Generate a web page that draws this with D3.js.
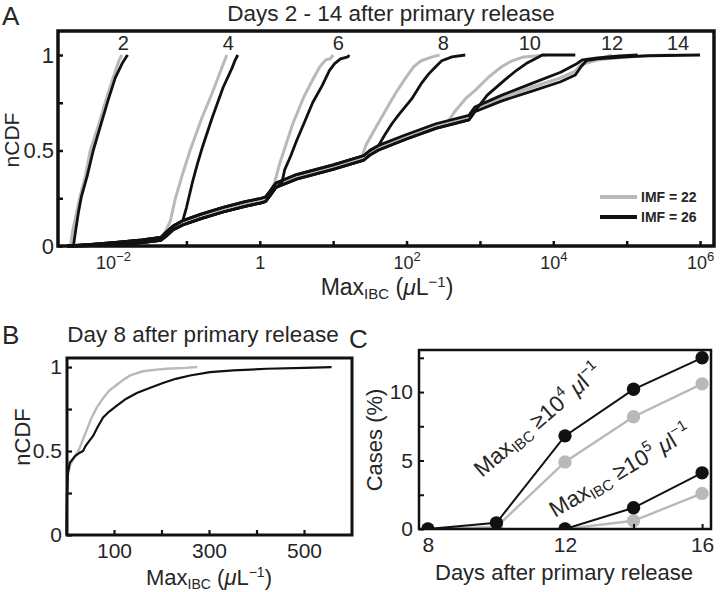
<!DOCTYPE html>
<html><head><meta charset="utf-8">
<script src="https://cdn.jsdelivr.net/npm/d3@7/dist/d3.min.js"></script>
<style>
body{margin:0;background:#fff}
text{font-family:"Liberation Sans",Arial,sans-serif;fill:#262626}
</style></head>
<body><svg id="chart" width="720" height="592"></svg>
<script>
// ---------------- DATA ----------------
// Panel A: points are [log10(Max_IBC), nCDF]
const aTickDecades = [-2,-1,0,1,2,3,4,5,6];
const aLabelDecades = [-2,0,2,4,6];
const aYTicks = [0,0.25,0.5,0.75,1];
const aYLabels = {0:"0",0.5:"0.5",1:"1"};
const dayLabels = ["2","4","6","8","10","12","14"];
const dayLabelPos = [-1.86,-0.43,1.07,2.5,3.68,4.8,5.7];

const tailGray = [[-2.62,0],[-2.3,0.005],[-2.0,0.012],[-1.6,0.025],[-1.35,0.038],[-1.28,0.06],[-1.18,0.095],[-1.05,0.122],[-0.8,0.155],[-0.5,0.19],[-0.2,0.22],[0.02,0.238],[0.08,0.245],[0.14,0.275],[0.22,0.318],[0.5,0.362],[1.0,0.413],[1.42,0.462],[1.5,0.488],[1.62,0.515],[2.0,0.572],[2.4,0.628],[2.85,0.672],[2.93,0.715],[3.3,0.775],[3.7,0.83],[4.1,0.88],[4.3,0.915],[4.38,0.95],[4.6,0.975],[5.0,0.99],[5.3,0.997]];
const tailBlackUpper = [[-2.62,0],[-2.3,0.008],[-2.0,0.018],[-1.6,0.032],[-1.35,0.045],[-1.28,0.07],[-1.18,0.105],[-1.05,0.133],[-0.8,0.167],[-0.5,0.202],[-0.2,0.232],[0.02,0.25],[0.08,0.257],[0.14,0.287],[0.22,0.33],[0.5,0.374],[1.0,0.425],[1.42,0.474],[1.5,0.5],[1.62,0.527],[2.0,0.584],[2.4,0.64],[2.85,0.684],[2.93,0.727],[3.3,0.79],[3.7,0.85],[4.1,0.91],[4.3,0.95],[4.4,0.975],[4.6,0.985],[5.0,0.993],[5.3,0.998]];
const tailBlackLower = [[-2.62,0],[-2.3,0.002],[-2.0,0.006],[-1.6,0.018],[-1.35,0.03],[-1.28,0.05],[-1.18,0.085],[-1.05,0.11],[-0.8,0.143],[-0.5,0.178],[-0.2,0.208],[0.02,0.226],[0.08,0.233],[0.14,0.263],[0.22,0.306],[0.5,0.35],[1.0,0.401],[1.42,0.45],[1.5,0.476],[1.62,0.503],[2.0,0.56],[2.4,0.616],[2.85,0.66],[2.93,0.703],[3.3,0.76],[3.7,0.81],[4.1,0.86],[4.3,0.895],[4.38,0.94],[4.45,0.97],[4.6,0.98],[5.0,0.99],[5.3,0.996]];

// rising parts of each day's curve (leave the shared tail at the first point)
const riseGray = {
  2: [[-2.58,0],[-2.55,0.08],[-2.5,0.17],[-2.45,0.26],[-2.38,0.36],[-2.31,0.5],[-2.2,0.63],[-2.1,0.76],[-2.0,0.88],[-1.92,0.97],[-1.88,1.0]],
  4: [[-1.32,0.045],[-1.28,0.08],[-1.22,0.13],[-1.15,0.25],[-1.05,0.38],[-0.95,0.5],[-0.8,0.66],[-0.65,0.8],[-0.53,0.92],[-0.48,0.97],[-0.45,1.0]],
  6: [[0.12,0.265],[0.2,0.33],[0.27,0.43],[0.33,0.5],[0.45,0.64],[0.6,0.78],[0.72,0.87],[0.82,0.94],[0.9,0.975],[0.96,0.98],[1.0,1.0]],
  8: [[1.38,0.458],[1.45,0.53],[1.55,0.6],[1.7,0.7],[1.85,0.8],[1.97,0.87],[2.1,0.94],[2.2,0.97],[2.35,0.99],[2.45,1.0]],
  10:[[2.55,0.645],[2.65,0.7],[2.8,0.77],[2.95,0.82],[3.12,0.885],[3.3,0.94],[3.44,0.97],[3.6,0.99],[3.9,1.0]],
  12:[[4.6,0.975],[4.8,1.0]],
  14:[[5.3,0.997],[5.6,1.0]]
};
const riseBlack = {
  2: [[-2.54,0],[-2.51,0.08],[-2.47,0.18],[-2.43,0.26],[-2.35,0.37],[-2.27,0.5],[-2.17,0.63],[-2.07,0.76],[-1.97,0.88],[-1.87,0.96],[-1.82,0.99],[-1.80,1.0]],
  4: [[-1.05,0.133],[-1.0,0.2],[-0.92,0.33],[-0.85,0.43],[-0.78,0.52],[-0.65,0.67],[-0.5,0.83],[-0.38,0.93],[-0.34,0.97],[-0.30,1.0]],
  6: [[0.3,0.33],[0.34,0.4],[0.42,0.47],[0.5,0.55],[0.6,0.64],[0.72,0.75],[0.85,0.84],[0.95,0.92],[1.02,0.955],[1.1,0.98],[1.2,0.99],[1.22,1.0]],
  8: [[1.62,0.527],[1.7,0.58],[1.8,0.64],[1.9,0.69],[2.07,0.77],[2.2,0.85],[2.3,0.9],[2.4,0.94],[2.48,0.97],[2.62,0.99],[2.8,1.0]],
  10:[[2.96,0.72],[3.1,0.79],[3.34,0.87],[3.5,0.92],[3.65,0.96],[3.8,0.99],[3.85,1.0],[4.3,1.0]],
  12:[[4.9,0.995],[5.15,1.0]],
  14:[[5.3,0.996],[6.0,1.0]]
};
const blackTailOf = {4:"upper",6:"lower",8:"upper",10:"lower",12:"upper",14:"lower"};
const days = [2,4,6,8,10,12,14];

// Panel B: day 8, linear axis, [Max_IBC, nCDF]
const bXTicks = [100,200,300,400,500];
const bXLabels = [100,300,500];
const bYTicks = [0,0.25,0.5,0.75,1];
const bGray = [[0,0],[0.3,0.1],[1,0.24],[3,0.36],[8,0.42],[18,0.47],[25,0.5],[32,0.55],[39,0.6],[46,0.65],[53,0.7],[64,0.76],[77,0.815],[90,0.86],[106,0.895],[120,0.925],[134,0.95],[161,0.975],[190,0.985],[211,0.99],[250,0.995],[275,1.0]];
const bBlack = [[0,0],[0.3,0.1],[1,0.24],[3,0.37],[7,0.43],[18,0.47],[28,0.49],[35,0.5],[40,0.53],[48,0.56],[56,0.59],[65,0.64],[77,0.70],[90,0.735],[106,0.77],[125,0.81],[148,0.845],[175,0.875],[203,0.905],[230,0.93],[260,0.95],[302,0.97],[351,0.98],[421,0.99],[500,0.995],[558,1.0]];

// Panel C: cases (%)
const cXTicks = [8,10,12,14,16];
const cXLabels = [8,12,16];
const cYTicks = [0,2.5,5,7.5,10,12.5];
const cYLabels = [0,5,10];
const cDays4 = [8,10,12,14,16];
const c4Black = [0,0.45,6.8,10.2,12.5];
const c4Gray  = [0,0.15,4.9,8.2,10.6];
const cDays5 = [12,14,16];
const c5Black = [0,1.55,4.1];
const c5Gray  = [0,0.6,2.6];

// ---------------- DRAW ----------------
const GRAY = "#b9b9b9", BLACK = "#111", TXT = "#262626";
const FONT = "Liberation Sans, Arial, sans-serif";
const svg = d3.select("#chart");

function rich(t, parts){
  let cur = 0;
  parts.forEach(p=>{
    const ts = t.append("tspan").text(p.t);
    const s = p.s || 0;
    ts.attr("dy", s - cur); cur = s;
    if (p.fs) ts.attr("font-size", p.fs);
    if (p.it) ts.attr("font-style","italic");
  });
  return t;
}
function styleAxis(a, w, fs){
  a.select(".domain").remove();
  a.selectAll(".tick line").attr("stroke",BLACK).attr("stroke-width",w);
  a.selectAll(".tick text").attr("font-size",fs).attr("fill",TXT).attr("font-family",FONT);
}

// ===== Panel A =====
const xA = d3.scaleLog().domain([Math.pow(10,-2.75), Math.pow(10,6.19)]).range([58,714]);
const yA = d3.scaleLinear().domain([0,1.1257]).range([246,31]);
const lineA = d3.line().x(d=>xA(Math.pow(10,d[0]))).y(d=>yA(d[1]));
const gA = svg.append("g");

function curve(tail, rise){
  if (!tail) return rise;
  return tail.filter(p=>p[0] < rise[0][0]).concat(rise);
}
days.forEach(d=>{
  gA.append("path").datum(curve(d===2?null:tailGray, riseGray[d]))
    .attr("d", lineA).attr("fill","none").attr("stroke",GRAY).attr("stroke-width",3).attr("stroke-linejoin","round");
});
days.forEach(d=>{
  const tail = d===2 ? null : (blackTailOf[d]==="upper" ? tailBlackUpper : tailBlackLower);
  gA.append("path").datum(curve(tail, riseBlack[d]))
    .attr("d", lineA).attr("fill","none").attr("stroke",BLACK).attr("stroke-width",2.8).attr("stroke-linejoin","round");
});

// axes A
const axA_x = gA.append("g").attr("transform","translate(0,246)")
  .call(d3.axisBottom(xA).tickValues(aTickDecades.map(e=>Math.pow(10,e))).tickSizeInner(-5).tickSizeOuter(0).tickPadding(10).tickFormat(""));
styleAxis(axA_x, 2.5, 18);
axA_x.selectAll(".tick").each(function(v){
  const e = Math.round(Math.log10(v));
  const t = d3.select(this).select("text").attr("dy",null).attr("y",23);
  if (!aLabelDecades.includes(e)) return;
  if (e===0) t.text("1");
  else rich(t, [{t:"10"},{t:(e<0?"\u2212":"")+Math.abs(e), s:-8, fs:13}]);
});
const axA_y = gA.append("g").attr("transform","translate(58,0)")
  .call(d3.axisLeft(yA).tickValues(aYTicks).tickSizeInner(-5).tickSizeOuter(0).tickPadding(4)
    .tickFormat(v=>aYLabels[v]||""));
styleAxis(axA_y, 2.5, 22);

gA.append("rect").attr("x",58).attr("y",31).attr("width",714-58).attr("height",246-31)
  .attr("fill","none").attr("stroke",BLACK).attr("stroke-width",3.5);

// day labels
gA.selectAll("text.day").data(dayLabels).enter().append("text").attr("class","day")
  .attr("x",(d,i)=>xA(Math.pow(10,dayLabelPos[i]))).attr("y",yA(1.026))
  .attr("text-anchor","middle").attr("font-size",20).text(d=>d);

// legend
[["IMF = 22",GRAY,197],["IMF = 26",BLACK,217]].forEach(([lab,col,y])=>{
  gA.append("line").attr("x1",600).attr("x2",637).attr("y1",y).attr("y2",y).attr("stroke",col).attr("stroke-width",4);
  gA.append("text").attr("x",641).attr("y",y+5).attr("font-size",14).attr("font-weight","bold").text(lab);
});

svg.append("text").attr("x",2).attr("y",25).attr("font-size",26).text("A");
svg.append("text").attr("x",391).attr("y",21).attr("text-anchor","middle").attr("font-size",22.5).text("Days 2 - 14 after primary release");
rich(svg.append("text").attr("x",387).attr("y",295).attr("text-anchor","middle").attr("font-size",23),
  [{t:"Max"},{t:"IBC",s:4,fs:15},{t:" ("},{t:"\u03bc",it:true},{t:"L"},{t:"\u22121",s:-8,fs:15},{t:")"}]);
svg.append("text").attr("transform","translate(19,140) rotate(-90)").attr("text-anchor","middle").attr("font-size",21).text("nCDF");

// ===== Panel B =====
const xB = d3.scaleLinear().domain([0,601]).range([66.5,352]);
const yB = d3.scaleLinear().domain([0,1.054]).range([535,358]);
const lineB = d3.line().x(d=>xB(d[0])).y(d=>yB(d[1]));
const gB = svg.append("g");
gB.append("path").datum(bGray).attr("d",lineB).attr("fill","none").attr("stroke",GRAY).attr("stroke-width",2.4);
gB.append("path").datum(bBlack).attr("d",lineB).attr("fill","none").attr("stroke",BLACK).attr("stroke-width",2.2);
const axB_x = gB.append("g").attr("transform","translate(0,535)")
  .call(d3.axisBottom(xB).tickValues(bXTicks).tickSizeInner(-5).tickSizeOuter(0).tickPadding(8)
    .tickFormat(v=>bXLabels.includes(v)?String(v):""));
const axB_y = gB.append("g").attr("transform","translate(67,0)")
  .call(d3.axisLeft(yB).tickValues(bYTicks).tickSizeInner(-5).tickSizeOuter(0).tickPadding(5)
    .tickFormat(v=>aYLabels[v]||""));
styleAxis(axB_x, 2.2, 21);
styleAxis(axB_y, 2.2, 21);
gB.append("rect").attr("x",67).attr("y",358).attr("width",352-67).attr("height",535-358)
  .attr("fill","none").attr("stroke",BLACK).attr("stroke-width",3);
svg.append("text").attr("x",2).attr("y",344).attr("font-size",26).text("B");
svg.append("text").attr("x",203).attr("y",342).attr("text-anchor","middle").attr("font-size",22.5).text("Day 8 after primary release");
rich(svg.append("text").attr("x",209).attr("y",585).attr("text-anchor","middle").attr("font-size",22),
  [{t:"Max"},{t:"IBC",s:4,fs:14},{t:" ("},{t:"\u03bc",it:true},{t:"L"},{t:"\u22121",s:-8,fs:14},{t:")"}]);
svg.append("text").attr("transform","translate(30,437) rotate(-90)").attr("text-anchor","middle").attr("font-size",22).text("nCDF");

// ===== Panel C =====
const xC = d3.scaleLinear().domain([7.74,16.26]).range([419,711]);
const yC = d3.scaleLinear().domain([0,13.07]).range([529,350]);
const gC = svg.append("g");
svg.append("defs").append("clipPath").attr("id","clipC").append("rect")
  .attr("x",419).attr("y",350).attr("width",711-419).attr("height",529-350);
const plotC = gC.append("g").attr("clip-path","url(#clipC)");
const lineC = d3.line().x(d=>xC(d[0])).y(d=>yC(d[1]));
const seriesC = [
  {x:cDays4,y:c4Gray,c:GRAY},{x:cDays5,y:c5Gray,c:GRAY},
  {x:cDays4,y:c4Black,c:BLACK},{x:cDays5,y:c5Black,c:BLACK}
];
seriesC.forEach(s=>{
  const pts = s.x.map((d,i)=>[d,s.y[i]]);
  plotC.append("path").datum(pts).attr("d",lineC).attr("fill","none").attr("stroke",s.c).attr("stroke-width",s.c===GRAY?2.4:2);
  plotC.selectAll(null).data(pts).enter().append("circle")
    .attr("cx",d=>xC(d[0])).attr("cy",d=>yC(d[1])).attr("r",6.7).attr("fill",s.c);
});
const axC_x = gC.append("g").attr("transform","translate(0,529)")
  .call(d3.axisBottom(xC).tickValues(cXTicks).tickSizeInner(-5).tickSizeOuter(0).tickPadding(8)
    .tickFormat(v=>cXLabels.includes(v)?String(v):""));
const axC_y = gC.append("g").attr("transform","translate(419,0)")
  .call(d3.axisLeft(yC).tickValues(cYTicks).tickSizeInner(-5).tickSizeOuter(0).tickPadding(6)
    .tickFormat(v=>cYLabels.includes(v)?String(v):""));
styleAxis(axC_x, 2, 21);
styleAxis(axC_y, 2, 21);
gC.append("rect").attr("x",419).attr("y",350).attr("width",711-419).attr("height",529-350)
  .attr("fill","none").attr("stroke",BLACK).attr("stroke-width",2.5);
svg.append("text").attr("x",349).attr("y",348).attr("font-size",26).text("C");
svg.append("text").attr("x",564).attr("y",580).attr("text-anchor","middle").attr("font-size",22).text("Days after primary release");
svg.append("text").attr("transform","translate(382,440) rotate(-90)").attr("text-anchor","middle").attr("font-size",22).text("Cases (%)");
rich(svg.append("text").attr("transform","translate(482,478) rotate(-40.6)").attr("font-size",22.5),
  [{t:"Max"},{t:"IBC",s:4,fs:15},{t:" \u226510"},{t:"4",s:-10,fs:15},{t:"   "},{t:"\u03bc",it:true},{t:"l"},{t:"\u22121",s:-10,fs:15}]);
rich(svg.append("text").attr("transform","translate(555,518) rotate(-30.6)").attr("font-size",22.5),
  [{t:"Max"},{t:"IBC",s:4,fs:15},{t:" \u226510"},{t:"5",s:-10,fs:15},{t:"   "},{t:"\u03bc",it:true},{t:"l"},{t:"\u22121",s:-10,fs:15}]);
</script></body></html>
